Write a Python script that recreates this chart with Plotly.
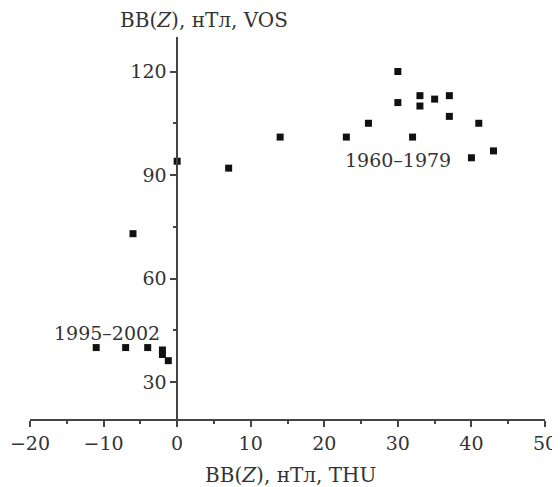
import plotly.graph_objects as go

x_thu = [0, 7, 14, 23, 26, 30, 30, 32, 33, 33, 35, 37, 37, 40, 41, 43,
         -6, -11, -7, -4, -2, -2, -1.2]
y_vos = [94, 92, 101, 101, 105, 120, 111, 101, 113, 110, 112, 113, 107, 95, 105, 97,
         73, 40, 40, 40, 39.3, 38, 36.2]

x_ticks = [-20, -10, 0, 10, 20, 30, 40, 50]
y_ticks = [30, 60, 90, 120]

label_texts = ["1960–1979", "1995–2002"]
label_x = [30, -9.6]
label_y = [94.4, 44.2]

FONT = "DejaVu Serif"
TXT = "#333333"
AX = "#444444"

# page body has an 8px margin: figure is drawn at (8, 8)
OFF = 8
W, H = 560 - OFF, 487 - OFF
L, R, T, B = 30 - OFF, 15, 37 - OFF, 68
PW = W - L - R
PH = H - T - B

fig = go.Figure()
fig.add_trace(go.Scatter(
    x=x_thu, y=y_vos, mode="markers",
    marker=dict(symbol="square", size=7, color="#111111"),
    showlegend=False, hoverinfo="skip"))

annotations = [dict(x=lx, y=ly, text=t, showarrow=False, xref="x", yref="y",
                    font=dict(family=FONT, size=19, color=TXT))
               for t, lx, ly in zip(label_texts, label_x, label_y)]
annotations.append(dict(text="BB(<i>Z</i>), нТл, VOS", x=(204 - 30) / PW, y=1, xref="paper", yref="paper",
                        yshift=37 - 20, showarrow=False, xanchor="center", yanchor="middle",
                        font=dict(family=FONT, size=20, color=TXT)))
annotations.append(dict(text="BB(<i>Z</i>), нТл, THU", x=(290 - 30) / PW, y=0, xref="paper", yref="paper",
                        yshift=-(475 - 419), showarrow=False, xanchor="center", yanchor="middle",
                        font=dict(family=FONT, size=20, color=TXT)))

fig.update_layout(
    width=W, height=H,
    margin=dict(l=L, r=R, t=T, b=B, autoexpand=False),
    plot_bgcolor="white", paper_bgcolor="white",
    font=dict(family=FONT, size=19, color=TXT),
    annotations=annotations,
    xaxis=dict(range=[-20, 50], tickvals=x_ticks, ticktext=[str(v).replace("-", "−") for v in x_ticks],
               showgrid=False, zeroline=False, showline=True, linecolor=AX, linewidth=1.5,
               ticks="outside", ticklen=6, tickwidth=1.5, tickcolor=AX,
               minor=dict(dtick=5, tick0=0, ticks="outside", ticklen=3, tickwidth=1.5, tickcolor=AX, showgrid=False),
               anchor="y"),
    yaxis=dict(range=[19.3, 130], tickvals=y_ticks,
               showgrid=False, zeroline=False, showline=True, linecolor=AX, linewidth=1.5,
               ticks="outside", ticklen=6, tickwidth=1.5, tickcolor=AX,
               minor=dict(dtick=15, tick0=0, ticks="outside", ticklen=3, tickwidth=1.5, tickcolor=AX, showgrid=False),
               anchor="free", position=20 / 70),
)

fig.write_html("out.html")
